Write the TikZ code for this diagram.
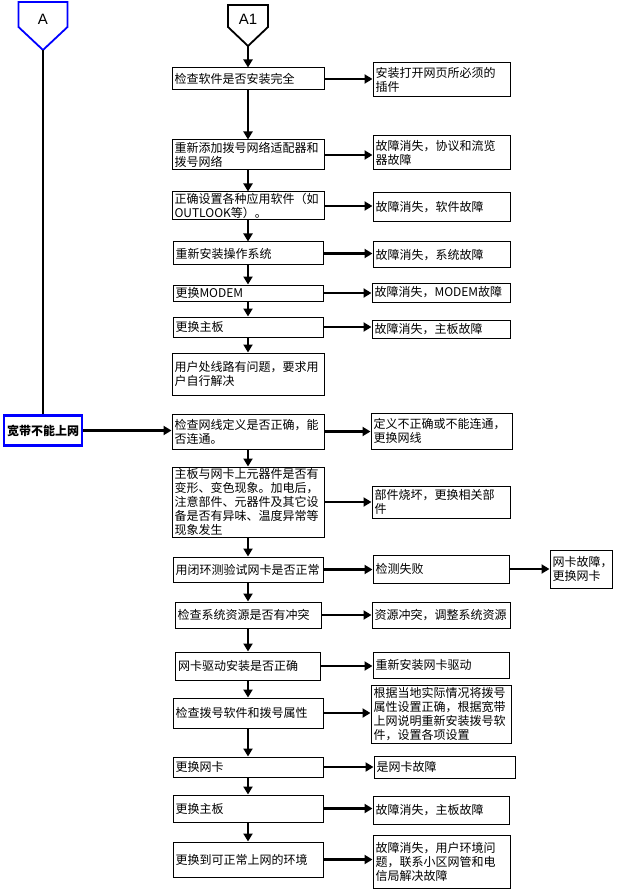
\documentclass[tikz,border=0pt]{standalone}
\usepackage{fontspec}
\setmainfont{Noto Sans CJK SC}
\newfontfamily\latinf{Liberation Sans}
\usetikzlibrary{arrows.meta}
\tikzset{
  box/.style={draw, line width=1pt, align=left, inner xsep=2.5pt, inner ysep=1pt,
    font=\fontsize{12pt}{14pt}\selectfont, anchor=center},
  arr/.style={line width=2.8pt, -{Triangle[length=8pt,width=9pt]}},
  pent/.style={line width=1.8pt, line join=miter},
  plabel/.style={font=\latinf\fontsize{15pt}{15pt}\selectfont, inner sep=0pt},
}
\begin{document}
\begin{tikzpicture}[x=1pt, y=-1pt]
\useasboundingbox (0,0) rectangle (624,890);
% connectors A and A1
\draw[pent, blue] (18.5,2) -- (67.5,2) -- (67.5,27) -- (43,50) -- (18.5,27) -- cycle;
\node[plabel] (A) at (43,19) {A};
\coordinate (Atip) at (43,50);
\draw[pent] (228,5) -- (268,5) -- (268,27) -- (248,46) -- (228,27) -- cycle;
\node[plabel] (A1) at (248,19) {A1};
\coordinate (A1tip) at (248,46);

% left column
\node[box, text width=147pt, minimum height=22pt] (n1) at (248,79) {检查软件是否安装完全};
\node[box, text width=147pt, minimum height=30pt] (n2) at (248,155) {重新添加拨号网络适配器和\\拨号网络};
\node[box, text width=147pt, minimum height=28pt] (n3) at (248,206) {正确设置各种应用软件（如\\OUTLOOK等）。};
\node[box, text width=145pt, minimum height=23pt] (n4) at (248,253.5) {重新安装操作系统};
\node[box, text width=145pt, minimum height=16pt] (n5) at (248,293) {更换MODEM};
\node[box, text width=145pt, minimum height=20pt] (n6) at (248,327) {更换主板};
\node[box, text width=147pt, minimum height=42pt] (n7) at (248,374) {用户处线路有问题，要求用\\户自行解决};
\node[box, text width=147pt, minimum height=35pt] (n8) at (248,431.5) {检查网线定义是否正确，能\\否连通。};
\node[box, text width=147pt, minimum height=70pt] (n9) at (248,502) {主板与网卡上元器件是否有\\变形、变色现象。加电后，\\注意部件、元器件及其它设\\备是否有异味、温度异常等\\现象发生};
\node[box, text width=145pt, minimum height=25pt] (n10) at (248,569.5) {用闭环测验试网卡是否正常};
\node[box, text width=141pt, minimum height=26pt] (n11) at (248,615) {检查系统资源是否有冲突};
\node[box, text width=140pt, minimum height=28pt] (n12) at (248,666) {网卡驱动安装是否正确};
\node[box, text width=145pt, minimum height=30pt] (n13) at (248,713) {检查拨号软件和拨号属性};
\node[box, text width=145pt, minimum height=20pt] (n14) at (248,767) {更换网卡};
\node[box, text width=145pt, minimum height=27pt] (n15) at (248,808.5) {更换主板};
\node[box, text width=145pt, minimum height=35pt] (n16) at (248,859.5) {更换到可正常上网的环境};

% right column
\node[box, text width=132pt, minimum height=34pt] (r1) at (441.5,80) {安装打开网页所必须的\\插件};
\node[box, text width=132pt, minimum height=34pt] (r2) at (441.5,153) {故障消失，协议和流览\\器故障};
\node[box, text width=132pt, minimum height=29pt] (r3) at (441.5,207.5) {故障消失，软件故障};
\node[box, text width=132pt, minimum height=26pt] (r4) at (441.5,255) {故障消失，系统故障};
\node[box, text width=133pt, minimum height=19pt] (r5) at (441,292.5) {故障消失，MODEM故障};
\node[box, text width=133pt, minimum height=18pt] (r6) at (441,329) {故障消失，主板故障};
\node[box, text width=136pt, minimum height=36pt] (r8) at (441.5,431) {定义不正确或不能连通，\\更换网线};
\node[box, text width=133pt, minimum height=32pt] (r9) at (441,502) {部件烧坏，更换相关部\\件};
\node[box, text width=131pt, minimum height=28pt] (r10) at (441,569) {检测失败};
\node[box, text width=57pt, minimum height=38pt] (f10) at (581,569) {网卡故障，\\更换网卡};
\node[box, text width=133pt, minimum height=26pt] (r11) at (441,615) {资源冲突，调整系统资源};
\node[box, text width=131pt, minimum height=26pt] (r12) at (441,665) {重新安装网卡驱动};
\node[box, text width=135pt, minimum height=58pt] (r13) at (441,714) {根据当地实际情况将拨号\\属性设置正确，根据宽带\\上网说明重新安装拨号软\\件，设置各项设置};
\node[box, text width=136pt, minimum height=22pt] (r14) at (444.5,767) {是网卡故障};
\node[box, text width=131pt, minimum height=28pt] (r15) at (441,810) {故障消失，主板故障};
\node[box, text width=132pt, minimum height=53pt] (r16) at (441.5,861.5) {故障消失，用户环境问\\题，联系小区网管和电\\信局解决故障};

% start box
\node[draw=blue, line width=2.5pt, minimum width=78pt, minimum height=30pt, inner sep=1pt,
  font=\fontsize{12pt}{14pt}\selectfont\bfseries] (bb) at (43,430.5) {宽带不能上网};

% A line
\draw[line width=2pt] (Atip) -- (bb.north);
\draw[arr] (bb.east) -- (n8.west |- bb.east);

% vertical arrows
\draw[arr] (A1tip) -- (n1.north);
\foreach \a/\b in {n1/n2,n2/n3,n3/n4,n4/n5,n5/n6,n6/n7,n8/n9,n9/n10,n10/n11,n11/n12,n12/n13,n13/n14,n14/n15,n15/n16}
  \draw[arr] (\a.south) -- (\a.south |- \b.north);

% horizontal arrows
\foreach \a/\b in {n1/r1,n2/r2,n3/r3,n4/r4,n5/r5,n6/r6,n8/r8,n9/r9,n10/r10,r10/f10,n11/r11,n12/r12,n13/r13,n14/r14,n15/r15,n16/r16}
  \draw[arr] (\a.east) -- (\b.west |- \a.east);
\end{tikzpicture}
\end{document}
